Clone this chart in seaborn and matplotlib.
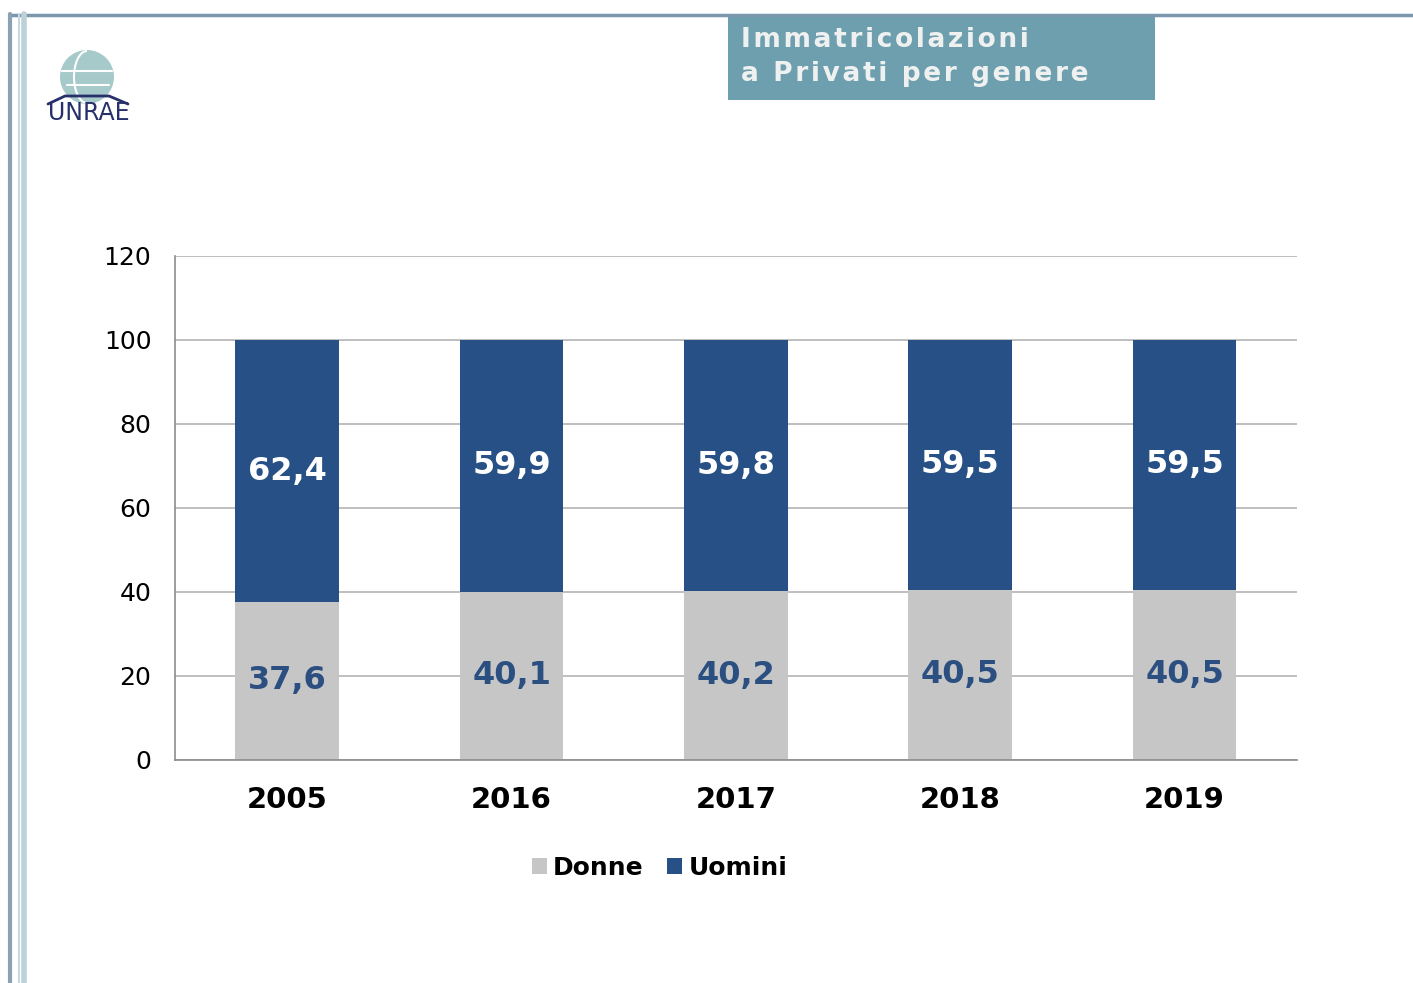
import matplotlib.pyplot as plt
import matplotlib.patches as mpatches
import seaborn as sns
import pandas as pd

# Dati: quota immatricolazioni a privati per genere (%)
anni = ['2005', '2016', '2017', '2018', '2019']
donne = [37.6, 40.1, 40.2, 40.5, 40.5]
uomini = [62.4, 59.9, 59.8, 59.5, 59.5]
yticks = [0, 20, 40, 60, 80, 100, 120]

col_donne = '#c6c6c6'
col_uomini = '#275186'

df = pd.DataFrame({'anno': anni, 'Donne': donne, 'Uomini': uomini})

sns.set_style('white')
plt.rcParams['font.family'] = ['DejaVu Sans']

fig = plt.figure(figsize=(14.13, 9.83), dpi=100)
ax = fig.add_axes([0.1239, 0.2269, 0.7938, 0.5127])

# Barre impilate
sns.barplot(data=df, x='anno', y='Donne', color=col_donne, width=0.463,
            saturation=1, ax=ax, label='Donne', linewidth=0)
sns.barplot(data=df, x='anno', y='Uomini', bottom=df['Donne'], color=col_uomini,
            width=0.463, saturation=1, ax=ax, label='Uomini', linewidth=0)

# Etichette dei valori
for i, (d, u) in enumerate(zip(donne, uomini)):
    ax.text(i, d / 2, f'{d:.1f}'.replace('.', ','), ha='center', va='center',
            fontsize=23, fontweight='bold', color='#2a4f80')
    ax.text(i, d + u / 2, f'{u:.1f}'.replace('.', ','), ha='center', va='center',
            fontsize=23, fontweight='bold', color='white')

ax.set_xlim(-0.5, len(anni) - 0.5)
ax.set_ylim(0, 120)
ax.set_yticks(yticks)
ax.set_yticklabels([str(t) for t in yticks], fontsize=18, color='black')
ax.yaxis.grid(True, color='#b4b4b4', linewidth=1.2)
ax.set_axisbelow(True)
ax.set_xlabel('')
ax.set_ylabel('')
for lab in ax.get_xticklabels():
    lab.set_fontsize(21)
    lab.set_fontweight('bold')
    lab.set_color('black')

for s in ['top', 'right']:
    ax.spines[s].set_visible(False)
for s in ['left', 'bottom']:
    ax.spines[s].set_color('#8c8c8c')
    ax.spines[s].set_linewidth(1.2)

ax.tick_params(axis='x', which='major', length=0, pad=19)
ax.set_xticks([i - 0.5 for i in range(len(anni) + 1)], minor=True)
ax.tick_params(axis='x', which='minor', length=7, color='#8c8c8c', width=1.2)
ax.tick_params(axis='y', length=7, color='#8c8c8c', width=1.2, pad=10)

# Legenda
leg = ax.legend(loc='upper center', bbox_to_anchor=(0.432, -0.146), ncol=2, frameon=False,
                prop={'size': 18, 'weight': 'bold'}, handlelength=0.6, handleheight=0.6,
                handletextpad=0.25, columnspacing=0.95)
for t in leg.get_texts():
    t.set_color('black')

# Cornice della slide
fig.add_artist(plt.Line2D([0.007, 1.0], [0.985, 0.985], color='#7b97ad', linewidth=2.5))
fig.add_artist(plt.Line2D([0.0071, 0.0071], [0.0, 0.986], color='#8aa2b6', linewidth=3))
fig.add_artist(plt.Line2D([0.0134, 0.0134], [0.0, 0.986], color='#c8d8e0', linewidth=1.5))
fig.add_artist(plt.Line2D([0.0167, 0.0167], [0.0, 0.986], color='#bdd1d9', linewidth=4))

# Riquadro del titolo (spaziatura lettere allargata)
fig.add_artist(mpatches.Rectangle((728 / 1413, 1 - 100 / 983), 427 / 1413, 85 / 983,
                                  facecolor='#6d9fae', edgecolor='none'))
titolo = ['Immatricolazioni', 'a Privati per genere']
for k, riga in enumerate(titolo):
    fig.text(741 / 1413, 1 - (40 + 34 * k) / 983, '\u200a'.join(riga),
             fontsize=19, fontweight='bold', color='#eff1f1', va='center', ha='left')

# Logo UNRAE (approssimato)
cx, cy = 87 / 1413, 1 - 77 / 983
fig.add_artist(mpatches.Ellipse((cx, cy), 54 / 1413, 54 / 983,
                                facecolor='#a6c9ca', edgecolor='none'))
fig.add_artist(plt.Line2D([cx - 25 / 1413, cx + 25 / 1413], [cy + 6 / 983, cy + 6 / 983],
                          color='white', linewidth=1.5))
fig.add_artist(plt.Line2D([cx - 20 / 1413, cx + 22 / 1413], [cy - 8 / 983, cy - 8 / 983],
                          color='white', linewidth=1.5))
fig.add_artist(mpatches.Arc((cx, cy), 26 / 1413, 52 / 983, theta1=90, theta2=270,
                            color='white', linewidth=1.5))
fig.add_artist(plt.Line2D([cx - 39 / 1413, cx - 22 / 1413, cx + 22 / 1413, cx + 41 / 1413],
                          [1 - 104 / 983, 1 - 96 / 983, 1 - 96 / 983, 1 - 104 / 983],
                          color='#27306a', linewidth=2))
fig.text(89 / 1413, 1 - 113 / 983, 'UNRAE', fontsize=17, color='#27306a',
         ha='center', va='center')

fig.savefig('out.png', dpi=100)
